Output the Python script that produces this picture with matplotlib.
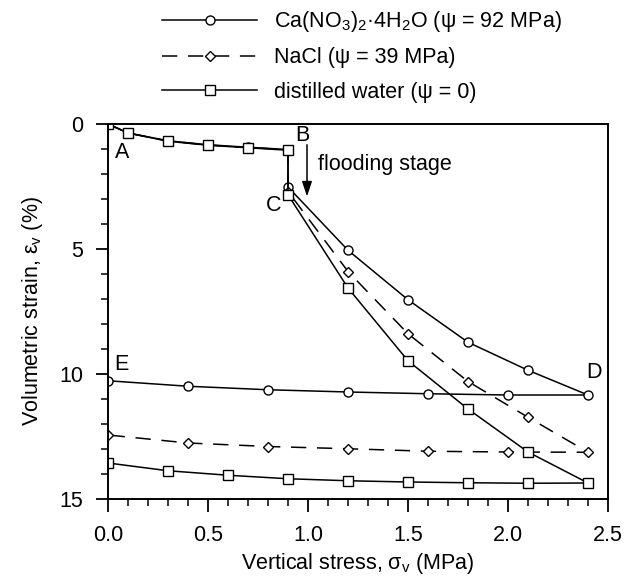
import matplotlib
matplotlib.use("Agg")
import matplotlib.pyplot as plt
from matplotlib.ticker import MultipleLocator, FormatStrFormatter

plt.rcParams['font.family'] = ['Liberation Sans', 'DejaVu Sans']
plt.rcParams['mathtext.fontset'] = 'custom'
plt.rcParams['mathtext.rm'] = 'Liberation Sans'
plt.rcParams['mathtext.it'] = 'Liberation Sans:italic'
plt.rcParams['mathtext.bf'] = 'Liberation Sans:bold'

# loading path (common x) and unloading paths
load_x = [0.0, 0.1, 0.3, 0.5, 0.7, 0.9, 0.9, 1.2, 1.5, 1.8, 2.1, 2.4]
ca_load = [0.0, 0.36, 0.67, 0.83, 0.93, 1.02, 2.52, 5.05, 7.03, 8.73, 9.85, 10.84]
nacl_load = [0.0, 0.36, 0.68, 0.84, 0.94, 1.03, 2.70, 5.90, 8.39, 10.30, 11.73, 13.13]
water_load = [0.0, 0.36, 0.69, 0.85, 0.95, 1.05, 2.83, 6.56, 9.47, 11.40, 13.12, 14.36]

ca_unload_x = [2.4, 2.0, 1.6, 1.2, 0.8, 0.4, 0.0]
ca_unload = [10.84, 10.84, 10.79, 10.72, 10.63, 10.49, 10.27]
nacl_unload_x = [2.4, 2.0, 1.6, 1.2, 0.8, 0.4, 0.0]
nacl_unload = [13.13, 13.12, 13.09, 12.99, 12.90, 12.76, 12.44]
water_unload_x = [2.4, 2.1, 1.8, 1.5, 1.2, 0.9, 0.6, 0.3, 0.0]
water_unload = [14.36, 14.37, 14.35, 14.32, 14.27, 14.19, 14.05, 13.87, 13.56]

labels = [r'Ca(NO$_3$)$_2$·4H$_2$O (ψ = 92 MPa)',
          'NaCl (ψ = 39 MPa)',
          'distilled water (ψ = 0)']

FS = 15.5

fig = plt.figure(figsize=(6.33, 5.76), dpi=100)
ax = fig.add_axes([108/633, 1 - 499/576, 500/633, 375/576])

lw = 1.1
ms = 6.5
common = dict(color='black', lw=lw, markersize=ms, markerfacecolor='white',
              markeredgecolor='black', markeredgewidth=1.0)

h1, = ax.plot(load_x + ca_unload_x[1:], ca_load + ca_unload[1:], marker='o',
              label=labels[0], **common)
h2, = ax.plot(load_x + nacl_unload_x[1:], nacl_load + nacl_unload[1:], marker='D',
              label=labels[1], dashes=(10, 7), **dict(common, markersize=5.2))
h3, = ax.plot(load_x + water_unload_x[1:], water_load + water_unload[1:], marker='s',
              label=labels[2], **common)

ax.set_xlim(0, 2.5)
ax.set_ylim(15, 0)
ax.xaxis.set_major_locator(MultipleLocator(0.5))
ax.xaxis.set_minor_locator(MultipleLocator(0.1))
ax.yaxis.set_major_locator(MultipleLocator(5))
ax.yaxis.set_minor_locator(MultipleLocator(1))
ax.xaxis.set_major_formatter(FormatStrFormatter('%.1f'))
ax.tick_params(which='major', direction='out', length=9, width=1.3, labelsize=FS)
ax.tick_params(axis='x', which='major', pad=10)
ax.tick_params(axis='y', which='major', pad=9)
ax.tick_params(which='minor', direction='out', length=4.8, width=1.1)
for s in ax.spines.values():
    s.set_linewidth(1.4)

ax.set_xlabel(r'Vertical stress, σ$_\mathrm{v}$ (MPa)', fontsize=FS, labelpad=3)
ax.set_ylabel(r'Volumetric strain, ε$_\mathrm{v}$ (%)', fontsize=FS, labelpad=10)

# annotations
ax.text(0.035, 1.15, 'A', fontsize=FS, ha='left', va='center')
ax.text(0.97, 0.45, 'B', fontsize=FS, ha='center', va='center')
ax.text(0.83, 3.25, 'C', fontsize=FS, ha='center', va='center')
ax.text(2.43, 10.35, 'D', fontsize=FS, ha='center', va='bottom')
ax.text(0.03, 9.6, 'E', fontsize=FS, ha='left', va='center')
ax.text(1.05, 1.63, 'flooding stage', fontsize=FS, ha='left', va='center')
ax.annotate('', xy=(0.995, 2.9), xytext=(0.995, 0.83),
            arrowprops=dict(arrowstyle='-|>,head_width=0.3,head_length=0.9',
                            color='black', lw=1.1, shrinkA=0, shrinkB=0))

leg = ax.legend(handles=[h1, h2, h3], loc='upper left',
                bbox_to_anchor=(160/633, 1 - 7/576), bbox_transform=fig.transFigure,
                frameon=False, fontsize=FS, numpoints=1, handlelength=4.4,
                handletextpad=0.8, labelspacing=0.62, borderpad=0.1, borderaxespad=0)

fig.savefig('out.png', dpi=100)
